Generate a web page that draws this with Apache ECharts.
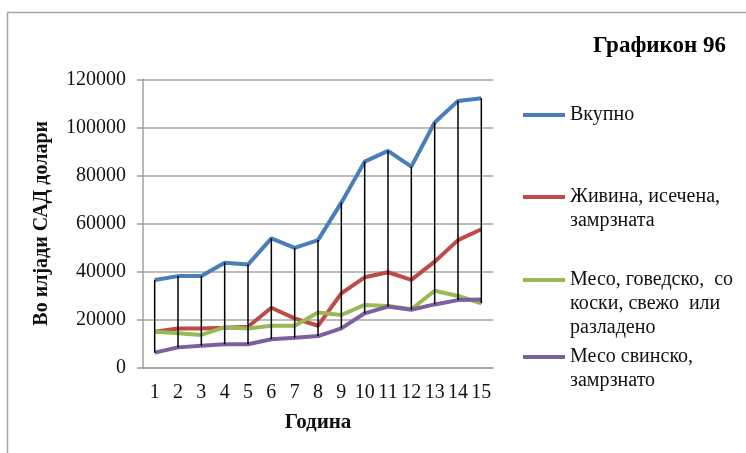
<!DOCTYPE html>
<html>
<head>
<meta charset="utf-8">
<script src="https://cdn.jsdelivr.net/npm/echarts@6/dist/echarts.min.js"></script>
<style>
html,body{margin:0;padding:0;background:#fff;}
#chart{width:746px;height:453px;}
</style>
</head>
<body>
<div id="chart"></div>
<script>
const categories = ['1','2','3','4','5','6','7','8','9','10','11','12','13','14','15'];
const seriesNames = ['Вкупно', 'Живина, исечена, замрзната', 'Месо, говедско, со коски, свежо или разладено', 'Месо свинско, замрзнато'];
const legendLines = [['Вкупно'], ['Живина, исечена,', 'замрзната'], ['Месо, говедско,  со', 'коски, свежо  или', 'разладено'], ['Месо свинско,', 'замрзнато']];
const vkupno   = [36400, 38000, 38000, 43600, 42800, 53700, 49800, 53000, 68600, 85700, 90200, 83600, 102000, 111000, 112100];
const zivina   = [14800, 16200, 16200, 16500, 16900, 24800, 20400, 17300, 30800, 37500, 39600, 36400, 44000, 53000, 57500];
const govedsko = [14800, 14200, 13500, 16700, 16200, 17300, 17300, 22800, 21800, 26000, 25500, 24200, 31900, 29700, 26700];
const svinsko  = [6100, 8300, 9000, 9600, 9600, 11700, 12300, 13000, 16200, 22500, 25300, 24000, 26200, 28000, 28300];
const yTicks = {min: 0, max: 120000, interval: 20000};
const colors = ['#4A7EBB', '#BE4B48', '#98B954', '#7D60A0'];

const allSeries = [vkupno, zivina, govedsko, svinsko];
const hiLo = categories.map((c, i) => {
  const vals = allSeries.map(s => s[i]);
  return [i, Math.max.apply(null, vals), Math.min.apply(null, vals)];
});

const FONT = 'Liberation Serif';
const legendCenters = [115, 197, 280, 357];
const LH = 24;
const legends = seriesNames.map((name, k) => {
  const lines = legendLines[k];
  const n = lines.length;
  const padded = new Array(n - 1).fill('').concat(lines).join('\n');
  const h = (2 * n - 1) * LH;
  return {
    show: true,
    data: [name],
    left: 523,
    top: legendCenters[k] - h / 2,
    orient: 'vertical',
    padding: 0,
    itemWidth: 42,
    itemHeight: 4,
    itemGap: 0,
    icon: 'rect',
    selectedMode: false,
    formatter: () => padded,
    textStyle: {fontFamily: FONT, fontSize: 20, color: '#111', lineHeight: LH, padding: [0, 0, 0, 0]}
  };
});

const chart = echarts.init(document.getElementById('chart'), null, {renderer: 'canvas'});
chart.setOption({
  animation: false,
  backgroundColor: '#fff',
  color: colors,
  title: {
    text: 'Графикон 96',
    right: 15,
    top: 30,
    textStyle: {fontFamily: FONT, fontSize: 23, fontWeight: 'bold', color: '#000'}
  },
  legend: legends,
  graphic: [{
    type: 'polyline',
    shape: {points: [[7.5, 453], [7.5, 12.5], [746, 12.5]]},
    style: {stroke: '#A6A6A6', lineWidth: 1.5, fill: null},
    silent: true
  }],
  grid: {left: 143, right: 253, top: 79.3, bottom: 85.7, containLabel: false},
  xAxis: {
    type: 'category',
    data: categories,
    boundaryGap: true,
    name: 'Година',
    nameLocation: 'middle',
    nameGap: 45,
    nameTextStyle: {fontFamily: FONT, fontSize: 21, fontWeight: 'bold', color: '#111'},
    axisLine: {lineStyle: {color: '#A0A0A0', width: 1.5}},
    axisTick: {show: false},
    axisLabel: {fontFamily: FONT, fontSize: 20, color: '#111', margin: 15, interval: 0}
  },
  yAxis: {
    type: 'value',
    min: yTicks.min,
    max: yTicks.max,
    interval: yTicks.interval,
    name: 'Во илјади САД долари',
    nameLocation: 'middle',
    nameGap: 91,
    nameRotate: 90,
    nameTextStyle: {fontFamily: FONT, fontSize: 20, fontWeight: 'bold', color: '#111'},
    axisLine: {show: true, lineStyle: {color: '#A0A0A0', width: 1.5}},
    axisTick: {show: true, inside: false, length: 6, lineStyle: {color: '#A0A0A0', width: 1.5}},
    axisLabel: {fontFamily: FONT, fontSize: 20, color: '#111', margin: 17, formatter: v => String(v)},
    splitLine: {show: true, lineStyle: {color: '#A6A6A6', width: 1.5}}
  },
  series: [
    {name: seriesNames[0], type: 'line', data: vkupno, symbol: 'none', lineStyle: {width: 4, color: colors[0]}, z: 3},
    {name: seriesNames[1], type: 'line', data: zivina, symbol: 'none', lineStyle: {width: 4, color: colors[1]}, z: 3},
    {name: seriesNames[2], type: 'line', data: govedsko, symbol: 'none', lineStyle: {width: 4, color: colors[2]}, z: 3},
    {name: seriesNames[3], type: 'line', data: svinsko, symbol: 'none', lineStyle: {width: 4, color: colors[3]}, z: 3},
    {
      type: 'custom',
      data: hiLo,
      z: 5,
      silent: true,
      renderItem: function (params, api) {
        const top = api.coord([api.value(0), api.value(1)]);
        const bot = api.coord([api.value(0), api.value(2)]);
        return {
          type: 'line',
          shape: {x1: top[0], y1: top[1], x2: bot[0], y2: bot[1]},
          style: {stroke: '#000', lineWidth: 1.5}
        };
      }
    }
  ]
});
</script>
</body>
</html>
